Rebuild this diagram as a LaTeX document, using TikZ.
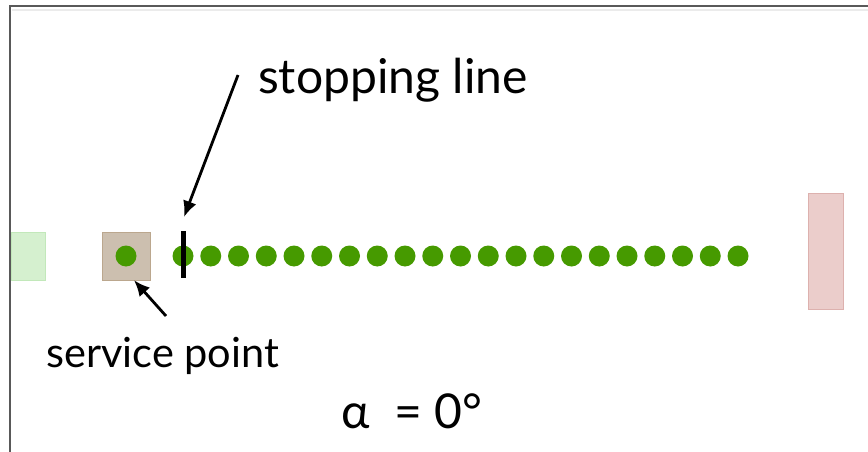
\documentclass[tikz,border=0pt]{standalone}
\usepackage{fontspec}
\setmainfont{Lato}
\usetikzlibrary{arrows.meta}

\definecolor{dotgreen}{HTML}{469A00}
\definecolor{entryfill}{HTML}{D5F0CF}
\definecolor{entryline}{HTML}{C2E8BA}
\definecolor{exitfill}{HTML}{EBCDCB}
\definecolor{exitline}{HTML}{DDB1AE}
\definecolor{servefill}{HTML}{CCBFAF}
\definecolor{serveline}{HTML}{BBA78E}

\tikzset{
  label text/.style={font=\fontsize{48}{56}\selectfont, inner sep=0pt},
  small text/.style={font=\fontsize{41.5}{50}\selectfont, inner sep=0pt},
  pointer/.style={line width=2.8pt, -{Latex[length=16pt,width=14pt]}},
  queue dot/.style={circle, fill=dotgreen, minimum size=21pt, inner sep=0pt},
}

\begin{document}
\begin{tikzpicture}[x=1pt,y=-1pt]
\useasboundingbox (0,0) rectangle (868,452);
% frame
\draw[black!8, line width=2pt] (12,10) -- (868,10);
\draw[black!65, line width=1.6pt] (10,452) -- (10,6) -- (868,6);

% entry and exit zones
\filldraw[fill=entryfill, draw=entryline] (10.8,232) rectangle (45,280);
\filldraw[fill=exitfill, draw=exitline] (808,193) rectangle (843,309);

% service point
\node[draw=serveline, fill=servefill, minimum size=48pt, inner sep=0pt] (server) at (126,256) {};
\node[queue dot] (served) at (server.center) {};

% queue
\foreach \i in {0,...,20}
  \node[queue dot] (car\i) at (183+27.75*\i,256) {};

% stopping line
\coordinate (stoptop) at (183,231);
\coordinate (stopbottom) at (183,278);
\coordinate (stoptip) at (184,217);
\draw[line width=5pt] (stoptop) -- (stopbottom);

% labels
\node[label text, anchor=base west] (stoplabel) at (258,93) {stopping line};
\node[small text, anchor=base west] (servelabel) at (46,367) {service point};
\node[label text, anchor=base] (angle) at (412,428) {α\ \ = 0°};

\coordinate (stoptail) at (238,75);
\coordinate (servetail) at (166,316);
\draw[pointer] (stoptail) -- (stoptip);
\draw[pointer] (servetail) -- ([xshift=8pt]server.south);
\end{tikzpicture}
\end{document}
